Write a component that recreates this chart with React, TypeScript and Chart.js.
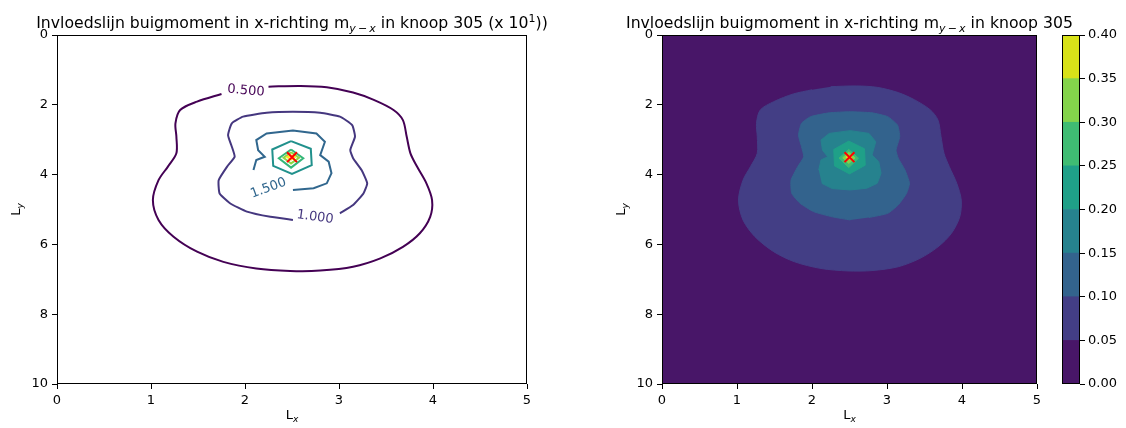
import React, { useEffect, useRef } from "react";
import { Chart, registerables } from "chart.js";

Chart.register(...registerables);

type Pt = [number, number];

// ---------------- data (Lx, Ly) ----------------
// Left panel: contour lines (values x 10^1). Open where the inline label sits.
const line050: Pt[] = [
  [2.25, 1.48], [2.59, 1.46], [2.87, 1.5], [3.15, 1.65], [3.37, 1.86], [3.58, 2.15],
  [3.68, 2.44], [3.72, 2.91], [3.76, 3.39], [3.83, 3.77], [3.93, 4.25], [3.99, 4.73],
  [3.97, 5.21], [3.86, 5.68], [3.68, 6.07], [3.44, 6.4], [3.15, 6.64], [2.8, 6.75],
  [2.48, 6.76], [2.12, 6.69], [1.77, 6.5], [1.49, 6.21], [1.24, 5.78], [1.08, 5.3],
  [1.02, 4.73], [1.08, 4.16], [1.18, 3.77], [1.27, 3.39], [1.27, 2.91], [1.26, 2.53],
  [1.31, 2.15], [1.49, 1.91], [1.75, 1.69],
];
const line100: Pt[] = [
  [2.51, 5.3], [2.27, 5.21], [2.02, 5.06], [1.84, 4.82], [1.73, 4.54], [1.72, 4.16],
  [1.81, 3.77], [1.89, 3.49], [1.86, 3.2], [1.82, 2.87], [1.86, 2.53], [1.98, 2.34],
  [2.23, 2.23], [2.51, 2.2], [2.8, 2.23], [3.01, 2.34], [3.14, 2.58], [3.17, 2.91],
  [3.12, 3.3], [3.15, 3.53], [3.24, 3.87], [3.3, 4.25], [3.26, 4.54], [3.15, 4.87],
  [3.01, 5.11],
];
const line150: Pt[] = [
  [2.09, 3.87], [2.12, 3.58], [2.21, 3.49], [2.14, 3.3], [2.12, 3.01], [2.23, 2.82],
  [2.51, 2.74], [2.76, 2.82], [2.85, 3.06], [2.8, 3.44], [2.89, 3.63], [2.92, 3.96],
  [2.87, 4.25], [2.73, 4.39], [2.51, 4.44],
];
const line200: Pt[] = [
  [2.49, 3.04], [2.7, 3.26], [2.71, 3.73], [2.5, 3.98], [2.3, 3.75], [2.29, 3.28], [2.49, 3.04],
];
const line250: Pt[] = [[2.49, 3.28], [2.62, 3.53], [2.49, 3.8], [2.36, 3.53], [2.49, 3.28]];
const line300: Pt[] = [[2.49, 3.36], [2.575, 3.52], [2.49, 3.68], [2.41, 3.52], [2.49, 3.36]];
const line350: Pt[] = [[2.49, 3.44], [2.53, 3.5], [2.49, 3.57], [2.45, 3.5], [2.49, 3.44]];

// parts of the level curves hidden behind the inline labels
const gap050: Pt[] = [[2.0, 1.57]];
const gap100: Pt[] = [[2.76, 5.23]];
const gap150: Pt[] = [[2.27, 4.4], [2.13, 4.25]];

const lineLevels = [0.5, 1.0, 1.5, 2.0, 2.5, 3.0, 3.5];
const labelTexts = ["0.500", "1.000", "1.500"];
const labelLevelIdx = [0, 1, 2];
const labelAt: Pt[] = [[2.01, 1.6], [2.745, 5.22], [2.25, 4.39]];
const labelAngle = [5, 8, -20];

// Right panel: filled bands
const bandLevels = [0, 0.05, 0.1, 0.15, 0.2, 0.25, 0.3, 0.35, 0.4];

// node 305
const nodeLx = [2.5];
const nodeLy = [3.5];

// ---------------- styles ----------------
const lineColors = ["#440154", "#45377f", "#31678e", "#21918c", "#35b779", "#8fd744", "#fde725"];
const bandColors = ["#481668", "#433e85", "#33638d", "#26828e", "#1fa088", "#3fbc73", "#84d44b", "#d8e219"];
const FONT = "'DejaVu Sans', 'Noto Sans', sans-serif";
const fnt = (size: number, italic = false) => `${italic ? "italic " : ""}${size}px ${FONT}`;

type Seg = { t: string; k?: number; it?: boolean; dy?: number; pad?: number };

function drawRich(ctx: CanvasRenderingContext2D, segs: Seg[], x: number, y: number, size: number) {
  let total = 0;
  const widths = segs.map((s) => {
    const sz = size * (s.k ?? 1);
    ctx.font = fnt(sz, s.it);
    const w = ctx.measureText(s.t).width + 2 * (s.pad ?? 0) * sz;
    total += w;
    return w;
  });
  let cx = x - total / 2;
  ctx.textAlign = "left";
  ctx.textBaseline = "alphabetic";
  segs.forEach((s, i) => {
    const sz = size * (s.k ?? 1);
    ctx.font = fnt(sz, s.it);
    ctx.fillText(s.t, cx + (s.pad ?? 0) * sz, y + (s.dy ?? 0) * size);
    cx += widths[i];
  });
}

const SUB = 0.25;
const titleLeft: Seg[] = [
  { t: "Invloedslijn buigmoment in x-richting m" },
  { t: "y", k: 0.7, it: true, dy: SUB },
  { t: "\u2212", k: 0.7, dy: SUB, pad: 0.2 },
  { t: "x", k: 0.7, it: true, dy: SUB },
  { t: " in knoop 305 (x 10" },
  { t: "1", k: 0.7, dy: -0.38 },
  { t: "))" },
];
const titleRight: Seg[] = [
  { t: "Invloedslijn buigmoment in x-richting m" },
  { t: "y", k: 0.7, it: true, dy: SUB },
  { t: "\u2212", k: 0.7, dy: SUB, pad: 0.2 },
  { t: "x", k: 0.7, it: true, dy: SUB },
  { t: " in knoop 305" },
];
const xLabel: Seg[] = [{ t: "L" }, { t: "x", k: 0.7, it: true, dy: 0.22 }];
const yLabel: Seg[] = [{ t: "L" }, { t: "y", k: 0.7, it: true, dy: 0.22 }];

const toXY = (pts: Pt[]) => pts.map(([x, y]) => ({ x, y }));

function axis(min: number, max: number, step: number, reverse: boolean, prop: "width" | "height", val: number, extra: any = {}) {
  return {
    type: "linear",
    min,
    max,
    reverse,
    ticks: {
      stepSize: step,
      color: "#000",
      font: { family: FONT, size: 13 },
      padding: 4,
      maxRotation: 0,
      autoSkip: false,
      ...(extra.ticks || {}),
    },
    grid: { display: true, drawOnChartArea: false, drawTicks: true, tickLength: 5, tickColor: "#000", tickWidth: 1, color: "#000" },
    border: { display: false },
    afterFit: (s: any) => {
      s[prop] = val;
    },
    ...(extra.position ? { position: extra.position } : {}),
  };
}

function decor(title: Seg[] | null, withAxisLabels: boolean, background: string | null) {
  return {
    id: "decor",
    beforeDatasetsDraw(chart: any) {
      if (!background) return;
      const { ctx, chartArea: a } = chart;
      ctx.save();
      ctx.fillStyle = background;
      ctx.fillRect(a.left, a.top, a.right - a.left, a.bottom - a.top);
      ctx.restore();
    },
    afterDraw(chart: any) {
      const { ctx, chartArea: a } = chart;
      ctx.save();
      ctx.strokeStyle = "#000";
      ctx.lineWidth = 1;
      const x0 = Math.round(a.left) + 0.5;
      const y0 = Math.round(a.top) + 0.5;
      const x1 = Math.round(a.right) - 0.5;
      const y1 = Math.round(a.bottom) - 0.5;
      ctx.strokeRect(x0, y0, x1 - x0, y1 - y0);
      ctx.fillStyle = "#000";
      const cx = (a.left + a.right) / 2;
      if (title) drawRich(ctx, title, cx, 28, 15.7);
      if (withAxisLabels) {
        drawRich(ctx, xLabel, cx, 419, 13);
        ctx.translate(a.left - 37, (a.top + a.bottom) / 2);
        ctx.rotate(-Math.PI / 2);
        drawRich(ctx, yLabel, 0, 0, 13);
      }
      ctx.restore();
    },
  };
}

const labelPlugin = {
  id: "clabels",
  afterDatasetsDraw(chart: any) {
    const { ctx } = chart;
    const xs = chart.scales.x;
    const ys = chart.scales.y;
    labelTexts.forEach((t, i) => {
      const px = xs.getPixelForValue(labelAt[i][0]);
      const py = ys.getPixelForValue(labelAt[i][1]);
      ctx.save();
      ctx.translate(px, py);
      ctx.rotate((labelAngle[i] * Math.PI) / 180);
      ctx.font = fnt(13);
      ctx.fillStyle = lineColors[labelLevelIdx[i]];
      ctx.textAlign = "center";
      ctx.textBaseline = "middle";
      ctx.fillText(t, 0, 0);
      ctx.restore();
    });
  },
};

const markerDataset = () => ({
  type: "line",
  data: nodeLx.map((x, i) => ({ x, y: nodeLy[i] })),
  showLine: false,
  pointStyle: "crossRot",
  pointRadius: 7,
  pointBorderWidth: 2,
  borderColor: "#ff0000",
  backgroundColor: "#ff0000",
  order: 0,
});

export default function App() {
  const leftRef = useRef<HTMLCanvasElement>(null);
  const rightRef = useRef<HTMLCanvasElement>(null);
  const cbRef = useRef<HTMLCanvasElement>(null);

  useEffect(() => {
    const charts: Chart[] = [];
    const lines = [line050, line100, line150, line200, line250, line300, line350];
    const closed = [
      [...line050, ...gap050],
      [...line100, ...gap100],
      [...line150, ...gap150],
      line200,
      line250,
      line300,
      line350,
    ];

    const base = {
      animation: false,
      responsive: false,
      maintainAspectRatio: false,
      events: [],
      plugins: { legend: { display: false }, tooltip: { enabled: false }, title: { display: false } },
    };

    // ---- left: contour lines
    if (leftRef.current) {
      charts.push(
        new Chart(leftRef.current, {
          type: "line",
          data: {
            datasets: [
              ...lines.map((pts, i) => ({
                type: "line",
                label: String(lineLevels[i]),
                data: toXY(pts),
                borderColor: lineColors[i],
                backgroundColor: lineColors[i],
                borderWidth: 2,
                pointRadius: 0,
                fill: false,
                tension: i === 0 ? 0.3 : i === 1 ? 0.15 : 0,
                order: 20 - i,
              })),
              markerDataset(),
            ],
          },
          options: {
            ...base,
            layout: { padding: { left: 0, right: 33, top: 35, bottom: 0 } },
            scales: {
              x: axis(0, 5, 1, false, "height", 44),
              y: axis(0, 10, 2, true, "width", 57),
            },
          } as any,
          plugins: [decor(titleLeft, true, null), labelPlugin],
        } as any)
      );
    }

    // ---- right: filled contours
    if (rightRef.current) {
      charts.push(
        new Chart(rightRef.current, {
          type: "line",
          data: {
            datasets: [
              ...closed.map((pts, i) => ({
                type: "line",
                label: String(bandLevels[i + 1]),
                data: toXY(pts),
                borderColor: bandColors[i + 1],
                backgroundColor: bandColors[i + 1],
                borderWidth: 1,
                pointRadius: 0,
                fill: "shape",
                tension: i === 0 ? 0.3 : i === 1 ? 0.15 : 0,
                order: 20 - i,
              })),
              markerDataset(),
            ],
          },
          options: {
            ...base,
            layout: { padding: { left: 0, right: 89, top: 35, bottom: 0 } },
            scales: {
              x: axis(0, 5, 1, false, "height", 44),
              y: axis(0, 10, 2, true, "width", 82),
            },
          } as any,
          plugins: [decor(titleRight, true, bandColors[0])],
        } as any)
      );
    }

    // ---- colorbar
    if (cbRef.current) {
      charts.push(
        new Chart(cbRef.current, {
          type: "bar",
          data: {
            labels: ["cb"],
            datasets: bandColors.map((c, i) => ({
              data: [[bandLevels[i], bandLevels[i + 1]]],
              backgroundColor: c,
              borderWidth: 0,
              grouped: false,
              barPercentage: 1,
              categoryPercentage: 1,
            })),
          },
          options: {
            ...base,
            layout: { padding: { left: 12, right: 0, top: 35, bottom: 44 } },
            scales: {
              x: { display: false },
              y: axis(0, 0.4, 0.05, false, "width", 46, {
                position: "right",
                ticks: { callback: (v: any) => Number(v).toFixed(2), padding: 3 },
              }),
            },
          } as any,
          plugins: [decor(null, false, null)],
        } as any)
      );
    }

    return () => charts.forEach((c) => c.destroy());
  }, []);

  return (
    <div style={{ position: "absolute", left: 0, top: 0, width: 1126, height: 428, background: "#fff" }}>
      <canvas ref={leftRef} width={560} height={428} style={{ position: "absolute", left: 0, top: 0, width: 560, height: 428 }} />
      <canvas ref={rightRef} width={546} height={428} style={{ position: "absolute", left: 580, top: 0, width: 546, height: 428 }} />
      <canvas ref={cbRef} width={76} height={428} style={{ position: "absolute", left: 1050, top: 0, width: 76, height: 428 }} />
    </div>
  );
}
